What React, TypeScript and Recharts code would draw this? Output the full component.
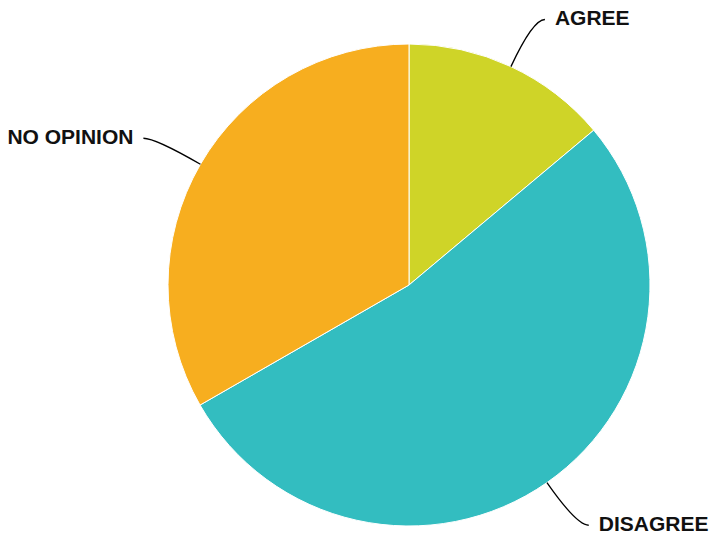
import { PieChart, Pie, Cell } from 'recharts'

const categories = ['AGREE', 'DISAGREE', 'NO OPINION']
const shares = [13.9, 52.8, 33.3]
const colors = ['#cfd428', '#33bdc0', '#f7ae1f']

const data = categories.map((name, i) => ({ name, value: shares[i] }))

const RADIAN = Math.PI / 180

function renderLabel(props: any) {
  const { cx, cy, midAngle, outerRadius, name } = props
  const cos = Math.cos(-midAngle * RADIAN)
  const sin = Math.sin(-midAngle * RADIAN)
  const sx = cx + outerRadius * cos
  const sy = cy + outerRadius * sin
  const mx = cx + (outerRadius + 52) * cos
  const my = cy + (outerRadius + 52) * sin
  const dir = cos >= 0 ? 1 : -1
  const ex = mx + dir * 12
  const ey = my
  return (
    <g>
      <path d={`M${sx},${sy} Q${mx},${my} ${ex},${ey}`} stroke="#000" strokeWidth={1.3} fill="none" />
      <text
        x={ex + dir * 10}
        y={ey - 2}
        textAnchor={dir > 0 ? 'start' : 'end'}
        dominantBaseline="central"
        fontFamily="'Liberation Sans', Arial, sans-serif"
        fontWeight="bold"
        fontSize={21}
        fill="#111"
      >
        {name}
      </text>
    </g>
  )
}

export default function App() {
  return (
    <div style={{ position: 'absolute', left: 0, top: 0, width: 711, height: 535, background: '#fff' }}>
      <PieChart width={711} height={535} margin={{ top: 0, right: 0, bottom: 0, left: 0 }}>
        <Pie
          data={data}
          dataKey="value"
          nameKey="name"
          cx={409}
          cy={285}
          outerRadius={241}
          startAngle={90}
          endAngle={-270}
          stroke="#fff"
          strokeWidth={1}
          label={renderLabel}
          labelLine={false}
          isAnimationActive={false}
        >
          {data.map((_, i) => <Cell key={i} fill={colors[i]} />)}
        </Pie>
      </PieChart>
    </div>
  )
}
